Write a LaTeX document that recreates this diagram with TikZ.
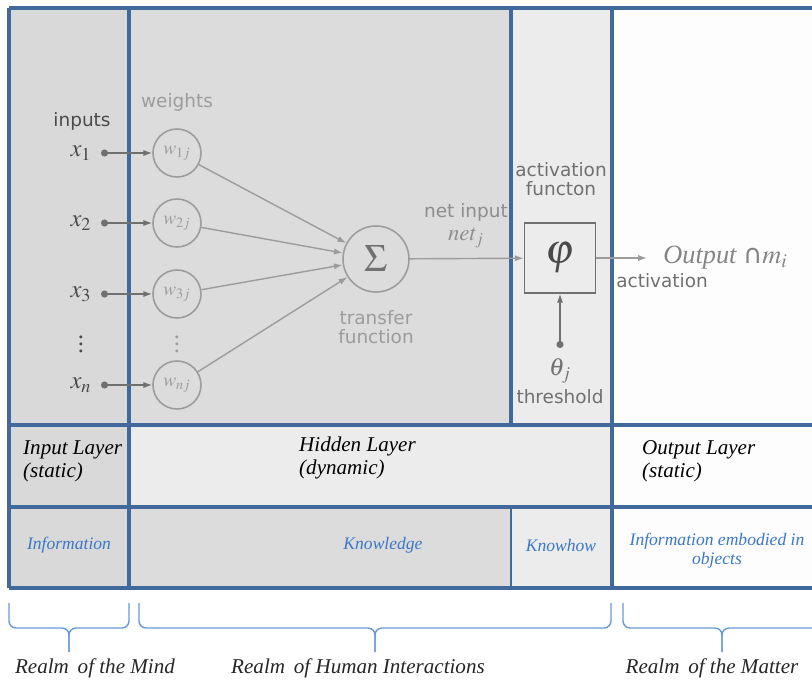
\documentclass[tikz,border=0pt]{standalone}
\usepackage{mathptmx}
\usepackage{fontspec}
\setmainfont{Liberation Serif}
\setsansfont{DejaVu Sans}
\usetikzlibrary{arrows.meta}

\definecolor{frameblue}{HTML}{41699C}
\definecolor{textblue}{HTML}{3C78C8}
\definecolor{braceblue}{HTML}{6A9AD6}
\definecolor{cellgray}{HTML}{D9D9D9}
\definecolor{panelgray}{HTML}{DCDCDC}
\definecolor{lightcell}{HTML}{ECECEC}
\definecolor{paper}{HTML}{FDFDFD}
\definecolor{wgray}{HTML}{9C9C9C}
\definecolor{boxgray}{HTML}{707070}
\definecolor{inkgray}{HTML}{4A4A4A}

\tikzset{
  gridline/.style={draw=frameblue, line width=2pt},
  weightnode/.style={circle, draw=wgray, line width=0.9pt, minimum size=0.96cm,
    inner sep=0pt, text=wgray, font=\fontsize{11}{11}\selectfont},
  sumnode/.style={circle, draw=wgray, line width=0.9pt, minimum size=1.32cm,
    inner sep=0pt, text=boxgray},
  actbox/.style={rectangle, draw=boxgray, line width=0.9pt, minimum width=1.42cm,
    minimum height=1.4cm, inner sep=0pt, text=inkgray},
  netlabel/.style={font=\sffamily\fontsize{10.5}{10.5}\selectfont, align=center},
  layerlabel/.style={font=\itshape\fontsize{12}{13}\selectfont, align=left, anchor=west},
  knowlabel/.style={font=\itshape\fontsize{10}{11}\selectfont, text=textblue, align=center},
  realmlabel/.style={font=\itshape\fontsize{12}{14}\selectfont, text=black!85},
  dotsnode/.style={inner sep=0pt, font=\fontsize{14}{14}\selectfont},
  netline/.style={draw=wgray, line width=0.8pt, -{Latex[length=5pt,width=3.5pt]}},
  inline/.style={draw=boxgray, line width=0.8pt,
    {Circle[length=4pt]}-{Latex[length=5pt,width=3.5pt]}},
  bracket/.style={draw=braceblue, line width=0.8pt, rounded corners=4pt},
}

\begin{document}
\begin{tikzpicture}[x=0.02cm, y=-0.02cm]
  \useasboundingbox (0,0) rectangle (812,683);
  \clip (0,0) rectangle (812,683);

  % Cell backgrounds: top row
  \fill[cellgray]  (9,8)   rectangle (129,425);
  \fill[panelgray] (129,8) rectangle (511,425);
  \fill[lightcell] (511,8) rectangle (612,425);
  \fill[paper]     (612,8) rectangle (812,425);
  % layer row
  \fill[cellgray]  (9,425)   rectangle (129,507);
  \fill[lightcell] (129,425) rectangle (612,507);
  \fill[paper]     (612,425) rectangle (812,507);
  % knowledge row
  \fill[cellgray]  (9,507)   rectangle (129,588);
  \fill[panelgray] (129,507) rectangle (511,588);
  \fill[lightcell] (511,507) rectangle (612,588);
  \fill[paper]     (612,507) rectangle (812,588);

  % Grid lines
  \foreach \y in {8, 425, 507, 588} {
    \draw[gridline] (9,\y) -- (812,\y);
  }
  \foreach \x in {9, 129, 612} {
    \draw[gridline] (\x,8) -- (\x,588);
  }
  \draw[gridline] (511,8) -- (511,425);
  \draw[gridline, line width=1.3pt] (511,507) -- (511,588);

  % Inputs and weights
  \node[netlabel, text=inkgray] (inputs) at (82,121) {inputs};
  \node[netlabel, text=wgray] (weights) at (177,102) {weights};
  \node[sumnode] (sum) at (376,259) {\fontsize{22}{22}\selectfont$\Sigma$};
  \foreach \y/\i in {153/1, 223/2, 294/3, 385/n} {
    \node[text=inkgray, font=\fontsize{14}{14}\selectfont] (x\i) at (81,\y) {$x_{\i}$};
    \coordinate (d\i) at (101,\y);
    \node[weightnode] (w\i) at (177,\y) {$w_{\i j}$};
    \draw[inline] (d\i) -- (w\i);
    \draw[netline] (w\i) -- (sum);
  }
  \node[dotsnode, text=inkgray] (xdots) at (81,339) {$\vdots$};
  \node[dotsnode, text=wgray] (wdots) at (177,339) {$\vdots$};

  % Transfer and activation
  \node[netlabel, text=wgray] (transfer) at (376,327) {transfer\\function};
  \node[netlabel, text=wgray!90!black] (netin) at (466,212) {net input};
  \node[text=wgray!90!black, font=\fontsize{13}{13}\selectfont] (netj) at (466,238) {$net_j$};
  \node[actbox] (phi) at (560,258) {\fontsize{24}{24}\selectfont$\varphi$};
  \draw[netline] (sum) -- (phi);
  \node[netlabel, text=boxgray] (actfun) at (561,179) {activation\\functon};
  \coordinate (theta) at (560,348);
  \draw[inline] (theta) -- (phi);
  \node[text=boxgray, font=\fontsize{14}{14}\selectfont] (thetaj) at (560,371) {$\theta_j$};
  \node[netlabel, text=boxgray] (threshold) at (560,397) {threshold};

  % Output
  \coordinate (outend) at (647,258);
  \draw[netline] (phi) -- (outend);
  \node[anchor=west, text=wgray!85!black, font=\itshape\fontsize{15}{15}\selectfont, inner sep=0pt]
    (output) at (663,258) {Output {\sffamily\upshape ∩}$m_i$};
  \node[netlabel, text=boxgray, anchor=west, inner sep=0pt] (activation) at (616,281) {activation};

  % Layer row
  \node[layerlabel] (inlayer) at (17,461) {Input Layer\\(static)};
  \node[layerlabel] (hidlayer) at (293,458) {Hidden Layer\\(dynamic)};
  \node[layerlabel] (outlayer) at (636,461) {Output Layer\\(static)};

  % Knowledge row
  \node[knowlabel] (info) at (69,545) {Information};
  \node[knowlabel] (knowledge) at (383,545) {Knowledge};
  \node[knowlabel] (knowhow) at (561,545) {Knowhow};
  \node[knowlabel] (embodied) at (717,551) {Information embodied in\\objects};

  % Brackets and realms
  \foreach \a/\b/\m in {9/129/69, 139/611/375, 623/840/722} {
    \draw[bracket] (\a,603) -- (\a,628) -- (\m,628) -- (\m,652);
    \draw[bracket] (\b,603) -- (\b,628) -- (\m,628) -- (\m,652);
  }
  \node[realmlabel] (mind) at (95,668) {Realm\, of the Mind};
  \node[realmlabel] (human) at (358,668) {Realm\, of Human Interactions};
  \node[realmlabel] (matter) at (712,668) {Realm\, of the Matter};
\end{tikzpicture}
\end{document}
